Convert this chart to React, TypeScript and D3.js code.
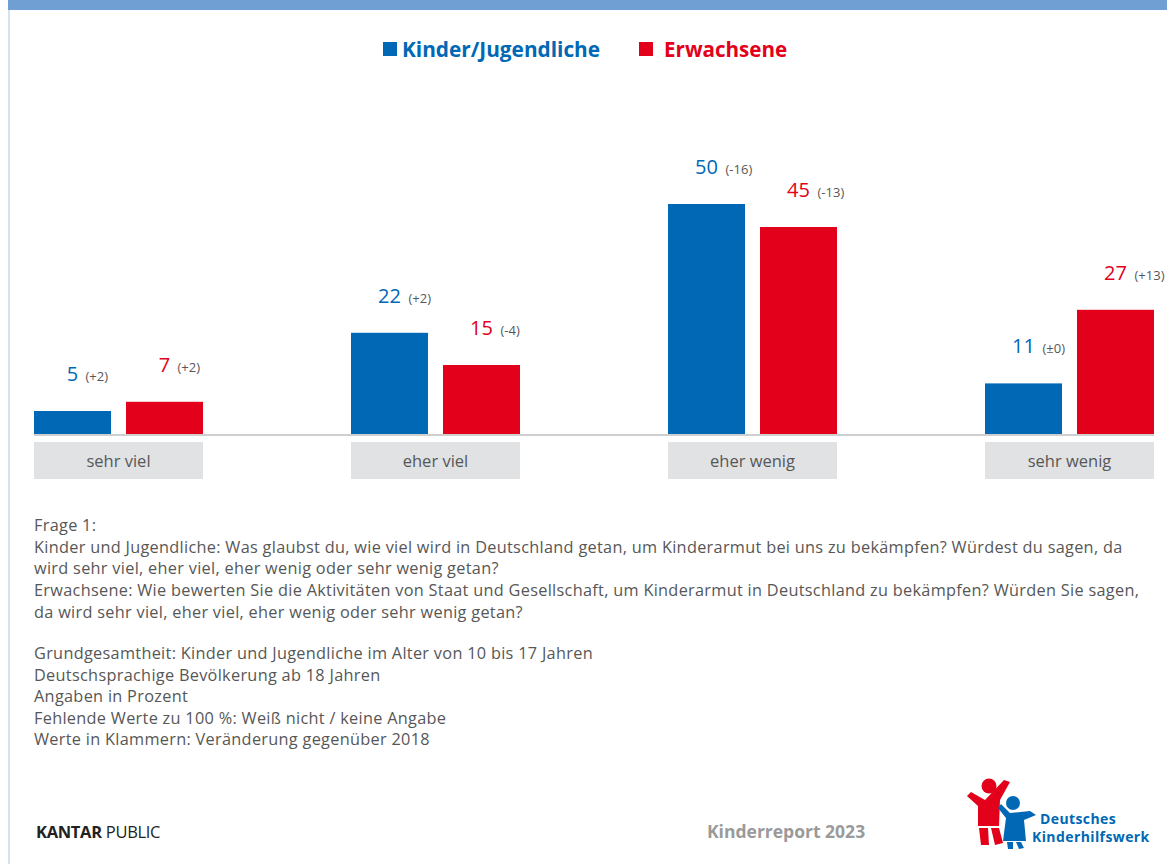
import React from 'react';
import * as d3 from 'd3';

// Kinderreport 2023 – Frage 1
const categories = ['sehr viel', 'eher viel', 'eher wenig', 'sehr wenig'];
const seriesNames = ['Kinder/Jugendliche', 'Erwachsene'];
const kinder = [5, 22, 50, 11];
const erwachsene = [7, 15, 45, 27];
const kinderChange = ['(+2)', '(+2)', '(-16)', '(±0)'];
const erwachseneChange = ['(+2)', '(-4)', '(-13)', '(+13)'];

const noteLines = [
  'Frage 1:',
  'Kinder und Jugendliche: Was glaubst du, wie viel wird in Deutschland getan, um Kinderarmut bei uns zu bekämpfen? Würdest du sagen, da',
  'wird sehr viel, eher viel, eher wenig oder sehr wenig getan?',
  'Erwachsene: Wie bewerten Sie die Aktivitäten von Staat und Gesellschaft, um Kinderarmut in Deutschland zu bekämpfen? Würden Sie sagen,',
  'da wird sehr viel, eher viel, eher wenig oder sehr wenig getan?',
];
const baseLines = [
  'Grundgesamtheit: Kinder und Jugendliche im Alter von 10 bis 17 Jahren',
  'Deutschsprachige Bevölkerung ab 18 Jahren',
  'Angaben in Prozent',
  'Fehlende Werte zu 100 %: Weiß nicht / keine Angabe',
  'Werte in Klammern: Veränderung gegenüber 2018',
];

const BLUE = '#0068b4';
const RED = '#e2001a';
const GREY_TXT = '#575757';
const FONT = '"Open Sans", "Noto Sans", sans-serif';

export default function App() {
  const width = 1167;
  const height = 864;
  const baseY = 434;

  // Scales
  const x = d3.scaleBand<string>()
    .domain(categories)
    .range([34, 1154])
    .paddingInner(1 - 169 / 317)
    .paddingOuter(0);

  const xs = d3.scaleBand<string>()
    .domain(seriesNames)
    .range([0, x.bandwidth()])
    .paddingInner(1 - 77 / 92)
    .paddingOuter(0);

  const y = d3.scaleLinear().domain([0, 50]).range([baseY, baseY - 230]);

  const series = [
    { name: seriesNames[0], values: kinder, changes: kinderChange, color: BLUE },
    { name: seriesNames[1], values: erwachsene, changes: erwachseneChange, color: RED },
  ];

  return (
    <svg
      width={width}
      height={height}
      style={{ position: 'absolute', left: 0, top: 0, background: '#fff' }}
      fontFamily={FONT}
    >
      <rect x={0} y={0} width={width} height={height} fill="#fff" />
      {/* frame */}
      <rect x={8} y={0} width={width - 8} height={10} fill="#6f9fd3" />
      <rect x={8} y={10} width={2} height={height - 10} fill="#d6e0f1" />

      {/* legend */}
      <g>
        <rect x={383} y={42} width={14} height={14} fill={BLUE} />
        <text x={402} y={57} fontSize={20.8} fontWeight={700} fill={BLUE}>{seriesNames[0]}</text>
        <rect x={639} y={42} width={14} height={14} fill={RED} />
        <text x={664} y={57} fontSize={20.6} fontWeight={700} fill={RED}>{seriesNames[1]}</text>
      </g>

      {/* baseline */}
      <line x1={x.range()[0]} x2={x.range()[1]} y1={baseY + 1} y2={baseY + 1} stroke="#cfcfcf" strokeWidth={2} />

      {/* bars */}
      {categories.map((c, i) => (
        <g key={c} transform={`translate(${x(c)},0)`}>
          {series.map(s => {
            const bx = xs(s.name)!;
            const v = s.values[i];
            const cx = bx + xs.bandwidth() / 2;
            return (
              <g key={s.name}>
                <rect x={bx} y={y(v)} width={xs.bandwidth()} height={y(0) - y(v)} fill={s.color} />
                <text x={cx} y={y(v) - 30} fontSize={20} fill={s.color} textAnchor="middle">
                  {v}
                </text>
                <text x={cx + (String(v).length * 6) + 7} y={y(v) - 30} fontSize={13} fill={GREY_TXT}>
                  {s.changes[i]}
                </text>
              </g>
            );
          })}
          <rect x={0} y={442} width={x.bandwidth()} height={37} fill="#e1e2e4" />
          <text x={x.bandwidth() / 2} y={467} fontSize={16.5} fill={GREY_TXT} textAnchor="middle">{c}</text>
        </g>
      ))}

      {/* notes */}
      <g fontSize={16.3} fill={GREY_TXT} letterSpacing={0.3}>
        {noteLines.map((t, i) => (
          <text key={'n' + i} x={34} y={531 + i * 21.7}>{t}</text>
        ))}
        {baseLines.map((t, i) => (
          <text key={'b' + i} x={34} y={659 + i * 21.5}>{t}</text>
        ))}
      </g>

      {/* footer */}
      <text x={36} y={838} fontSize={16.5} fill="#222" letterSpacing={-0.3}>
        <tspan fontWeight={700}>KANTAR</tspan>
        <tspan> PUBLIC</tspan>
      </text>
      <text x={707} y={838} fontSize={17.5} fontWeight={700} fill="#9a9a9a">Kinderreport 2023</text>

      {/* logo */}
      <g>
        <circle cx={989} cy={786} r={7.5} fill={RED} />
        <path d="M967,796 L971,792 L985,800 L1004,780 L1010,782 L1000,800 L999,826 L978,826 L978,806 Z" fill={RED} />
        <path d="M979,828 L988,828 L989,845 L981,845 Z M991,828 L999,828 L1003,843 L995,845 Z" fill={RED} />
        <circle cx={1013} cy={803} r={7} fill={BLUE} />
        <path d="M998,808 L1001,804 L1010,813 L1030,811 L1036,815 L1024,820 L1026,841 L1003,841 L1006,818 Z" fill={BLUE} />
        <path d="M1007,842 L1013,842 L1013,849 L1008,849 Z M1016,842 L1021,842 L1024,848 L1019,849 Z" fill={BLUE} />
        <text x={1040} y={824} fontSize={14} fontWeight={700} fill={BLUE} letterSpacing={0.4}>Deutsches</text>
        <text x={1032} y={842} fontSize={14} fontWeight={700} fill={BLUE} letterSpacing={0.4}>Kinderhilfswerk</text>
      </g>
    </svg>
  );
}
